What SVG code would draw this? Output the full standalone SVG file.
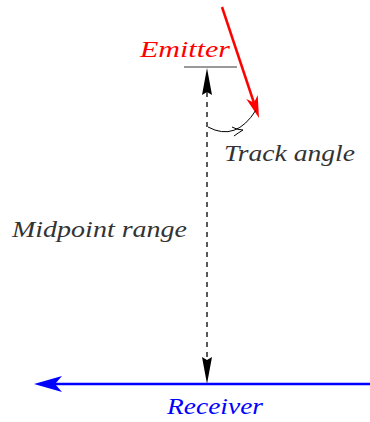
<svg xmlns="http://www.w3.org/2000/svg" width="370" height="422" viewBox="0 0 370 422">
<style>
text{font-family:'Liberation Serif','Times New Roman',serif;font-style:italic;font-size:24px}
.lbl{fill:#333}
</style>
<rect width="370" height="422" fill="#fff"/>
<g id="connectors">
<line x1="207" y1="92" x2="207" y2="360" stroke="#000" stroke-width="1.3" stroke-dasharray="5,5"/>
<path d="M207,68 L212,95 L207,92 L202,95 Z" fill="#000"/>
<path d="M207,384 L212,357 L207,360 L202,357 Z" fill="#000"/>
<line x1="222" y1="7" x2="254" y2="103" stroke="#ff0000" stroke-width="2.5"/>
<path d="M259,118 L246.3,98.9 L254,102.8 L257.7,95.1 Z" fill="#ff0000"/>
<line x1="370" y1="384" x2="50" y2="384" stroke="#0000ff" stroke-width="2.5"/>
<path d="M34,384 L62,376 L55,384 L62,392 Z" fill="#0000ff"/>
<path d="M208,127 Q236,142 256,110" fill="none" stroke="#000" stroke-width="1"/>
<path d="M232,127 Q237,130 243,130 Q238,133 234,136" fill="none" stroke="#000" stroke-width="1"/>
</g>
<g id="emitter">
<line x1="184" y1="67" x2="237" y2="67" stroke="#777" stroke-width="1.5"/>
<text x="140" y="57" fill="#ff0000" textLength="90" lengthAdjust="spacingAndGlyphs">Emitter</text>
</g>
<g id="receiver">
<text x="167" y="414" fill="#0000ff" textLength="96" lengthAdjust="spacingAndGlyphs">Receiver</text>
</g>
<g id="track-angle">
<text class="lbl" x="224" y="161" textLength="131" lengthAdjust="spacingAndGlyphs">Track angle</text>
</g>
<g id="midpoint-range">
<text class="lbl" x="12" y="237" textLength="175" lengthAdjust="spacingAndGlyphs">Midpoint range</text>
</g>
</svg>
